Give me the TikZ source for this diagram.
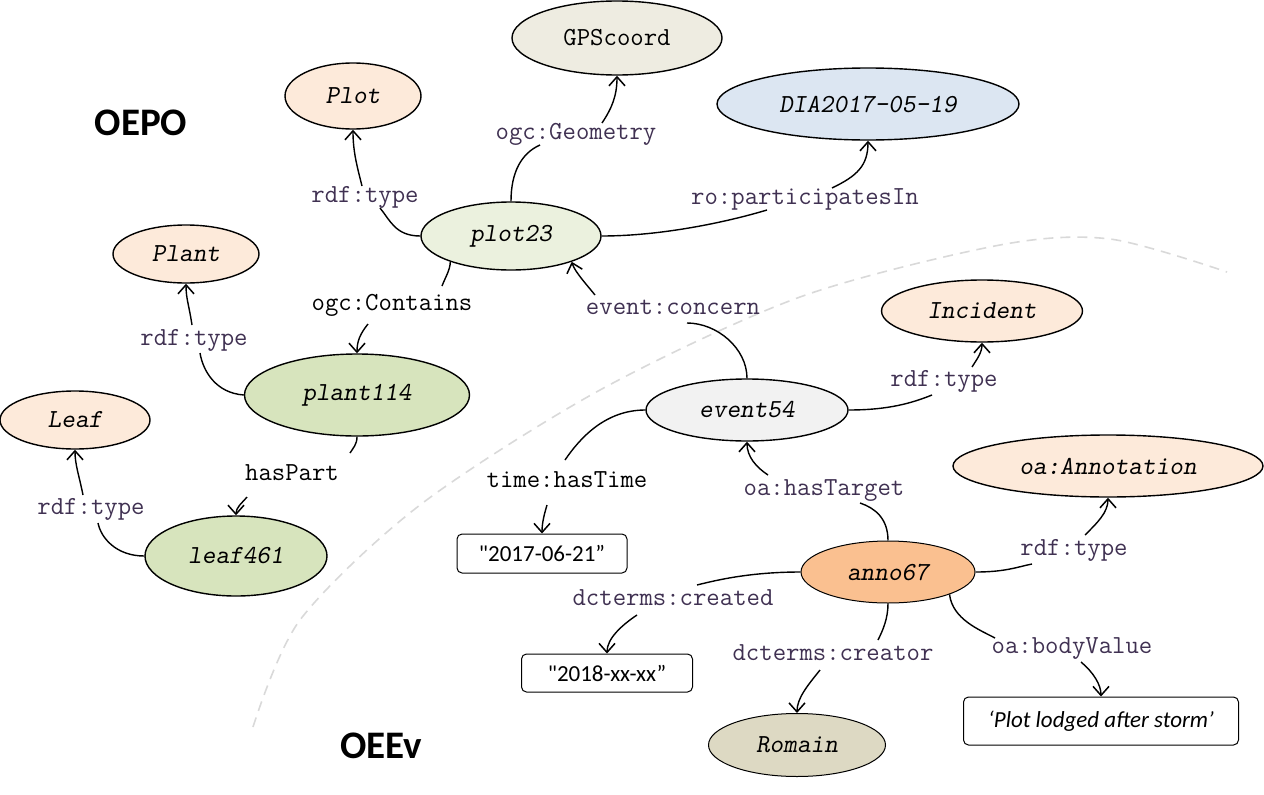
\documentclass[tikz,border=0pt]{standalone}
\usepackage{fontspec}
\setmainfont{Carlito}[Ligatures=TeXOff]
\usetikzlibrary{shapes.geometric,arrows.meta}
\definecolor{peach}{HTML}{FDEADA}
\definecolor{gpsfill}{HTML}{EEECE1}
\definecolor{diafill}{HTML}{DCE6F2}
\definecolor{plotfill}{HTML}{EBF1DE}
\definecolor{greenfill}{HTML}{D7E4BD}
\definecolor{eventfill}{HTML}{F2F2F2}
\definecolor{annofill}{HTML}{FAC090}
\definecolor{romainfill}{HTML}{DDD9C3}
\definecolor{lblcol}{HTML}{403152}
\definecolor{dashcol}{HTML}{D9D9D9}
\tikzset{
  ent/.style={ellipse, draw=black, line width=1.4pt, inner sep=0pt,
    font=\ttfamily\slshape\fontsize{26}{29}\selectfont},
  lbl/.style={inner xsep=2pt, inner ysep=2pt, outer sep=0pt, text height=14pt, text depth=4pt,
    font=\ttfamily\fontsize{26}{29}\selectfont, text=lblcol},
  lblk/.style={lbl, text=black},
  lit/.style={draw=black, line width=1pt, rounded corners=5pt, inner sep=0pt,
    font=\fontsize{23}{26}\selectfont},
  edge/.style={line width=1.4pt, black},
  arr/.style={edge, -{Straight Barb[length=9pt,width=16pt,line width=1.5pt]}},
  region/.style={font=\bfseries\fontsize{39}{44}\selectfont}
}
\begin{document}
\begin{tikzpicture}[x=1pt,y=-1pt]
\useasboundingbox (0,0) rectangle (1264,795);
% separation line
\draw[dashcol, line width=1.6pt, dash pattern=on 10pt off 7pt]
  plot[smooth] coordinates {(253,727) (300,620) (420,505) (600,390) (800,297) (1000,245) (1110,239) (1227,272)};
% region titles
\node[region] (oepo) at (141,123) {OEPO};
\node[region] (oeev) at (381,746) {OEEv};
% entities
\node[ent, fill=gpsfill, minimum width=210pt, minimum height=74pt, font=\ttfamily\fontsize{26}{29}\selectfont] (gps) at (617,38) {GPScoord};
\node[ent, fill=peach, minimum width=136pt, minimum height=66pt] (plot) at (353,96) {Plot};
\node[ent, fill=diafill, minimum width=302pt, minimum height=72pt] (dia) at (868,104) {DIA2017-05-19};
\node[ent, fill=plotfill, minimum width=180pt, minimum height=68pt] (plot23) at (511,236) {plot23};
\node[ent, fill=peach, minimum width=146pt, minimum height=58pt] (plant) at (186,254) {Plant};
\node[ent, fill=greenfill, minimum width=225pt, minimum height=82pt] (plant114) at (357,395) {plant114};
\node[ent, fill=peach, minimum width=150pt, minimum height=58pt] (leaf) at (75,420) {Leaf};
\node[ent, fill=greenfill, minimum width=182pt, minimum height=80pt] (leaf461) at (236,556) {leaf461};
\node[ent, fill=peach, minimum width=201pt, minimum height=62pt] (incident) at (982,311) {Incident};
\node[ent, fill=eventfill, minimum width=202pt, minimum height=62pt] (event54) at (747,410) {event54};
\node[ent, fill=peach, minimum width=310pt, minimum height=62pt] (oaann) at (1108,466) {oa:Annotation};
\node[ent, fill=annofill, line width=1pt, minimum width=174pt, minimum height=62pt] (anno67) at (888,572) {anno67};
\node[ent, fill=romainfill, line width=1pt, minimum width=177pt, minimum height=63pt] (romain) at (797,745) {Romain};
% literals
\node[lit, minimum width=170pt, minimum height=39pt] (lit1) at (542,553.5) {"2017-06-21”};
\node[lit, minimum width=171pt, minimum height=38pt] (lit2) at (607,673) {"2018-xx-xx”};
\node[lit, minimum width=275pt, minimum height=48pt, font=\itshape\fontsize{23}{26}\selectfont] (lit3) at (1101,721) {‘Plot lodged after storm’};
% labels
\node[lbl] (l1) at (365,197) {rdf:type};
\node[lbl] (l2) at (576,134) {ogc:Geometry};
\node[lbl] (l3) at (805,199) {ro:participatesIn};
\node[lblk] (l4) at (392,305) {ogc:Contains};
\node[lbl] (l5) at (194,340) {rdf:type};
\node[lblk] (l6) at (292,475) {hasPart};
\node[lbl] (l7) at (91,509) {rdf:type};
\node[lbl] (l8) at (673,309) {event:concern};
\node[lbl] (l9) at (944,381) {rdf:type};
\node[lblk] (l10) at (567,482) {time:hasTime};
\node[lbl] (l11) at (824,490) {oa:hasTarget};
\node[lbl] (l12) at (1074,550) {rdf:type};
\node[lbl] (l13) at (673,600) {dcterms:created};
\node[lbl] (l14) at (833,655) {dcterms:creator};
\node[lbl] (l15) at (1072,648) {oa:bodyValue};
% edges
% plot23 -> Plot
\draw[edge] (plot23.west) .. controls +(-25,0) and +(10,12) .. ([xshift=15pt]l1.south);
\draw[arr] ([xshift=-3pt]l1.north) .. controls +(-5,-20) and +(0,22) .. (plot.south);
% plot23 -> GPScoord
\draw[edge] (plot23.north) .. controls +(0,-30) and +(-18,8) .. ([xshift=-36pt]l2.south);
\draw[arr] ([xshift=26pt]l2.north) .. controls +(10,-15) and +(0,20) .. (gps.south);
% plot23 -> DIA
\draw[edge] (plot23.east) .. controls +(60,0) and +(-40,12) .. ([xshift=-38pt]l3.south);
\draw[arr] ([xshift=27pt]l3.north) .. controls +(25,-12) and +(0,25) .. (dia.south);
% plot23 -> plant114
\draw[edge] (plot23.203) .. controls +(0,8) and +(3,-8) .. ([xshift=50pt,yshift=8pt]l4.north);
\draw[arr] ([xshift=-24pt,yshift=-8pt]l4.south) .. controls +(-8,10) and +(0,-12) .. (plant114.north);
% plant114 -> Plant
\draw[edge] (plant114.west) .. controls +(-28,-2) and +(3,18) .. ([xshift=6pt,yshift=-2pt]l5.south);
\draw[arr] ([xshift=-2pt,yshift=4pt]l5.north) .. controls +(-3,-20) and +(0,15) .. (plant.south);
% plant114 -> leaf461
\draw[edge] (plant114.south) .. controls +(0,8) and +(3,-5) .. ([xshift=58pt,yshift=11pt]l6.north);
\draw[arr] ([xshift=-45pt,yshift=-11pt]l6.south) .. controls +(-5,6) and +(0,-8) .. (leaf461.north);
% leaf461 -> Leaf
\draw[edge] (leaf461.west) .. controls +(-28,0) and +(3,15) .. ([xshift=7pt,yshift=-3pt]l7.south);
\draw[arr] ([xshift=-8pt,yshift=3pt]l7.north) .. controls +(-4,-20) and +(0,15) .. (leaf.south);
% event54 -> plot23
\draw[edge] (event54.north) .. controls +(0,-30) and +(30,0) .. ([xshift=14pt,yshift=-3pt]l8.south);
\draw[arr] ([xshift=-78pt,yshift=3pt]l8.north) .. controls +(-8,-10) and +(3,10) .. (plot23.-23);
% event54 -> Incident
\draw[edge] (event54.east) .. controls +(40,0) and +(-20,8) .. ([xshift=-12pt,yshift=-3pt]l9.south);
\draw[arr] ([xshift=28pt,yshift=3pt]l9.north) .. controls +(5,-8) and +(0,10) .. (incident.south);
% event54 -> literal 1
\draw[edge] (event54.west) .. controls +(-40,0) and +(15,-22) .. ([xshift=-2pt,yshift=11pt]l10.north);
\draw[arr] ([xshift=-20pt,yshift=-12pt]l10.south) .. controls +(-3,10) and +(0,-10) .. (lit1.north);
% anno67 -> event54
\draw[edge] (anno67.north) .. controls +(0,-22) and +(15,5) .. ([xshift=36pt,yshift=-2pt]l11.south);
\draw[arr] ([xshift=-56pt,yshift=4pt]l11.north) .. controls +(-12,-8) and +(0,15) .. (event54.south);
% anno67 -> oa:Annotation
\draw[edge] (anno67.east) .. controls +(30,0) and +(-15,3) .. ([xshift=-42pt,yshift=-3pt]l12.south);
\draw[arr] ([xshift=11pt,yshift=4pt]l12.north) .. controls +(12,-12) and +(0,15) .. (oaann.south);
% anno67 -> literal 2
\draw[edge] (anno67.west) .. controls +(-50,0) and +(20,-5) .. ([xshift=24pt,yshift=4pt]l13.north);
\draw[arr] ([xshift=-36pt,yshift=-4pt]l13.south) .. controls +(-15,10) and +(0,-15) .. (lit2.north);
% anno67 -> Romain
\draw[edge] (anno67.south) .. controls +(0,15) and +(5,-10) .. ([xshift=45pt,yshift=4pt]l14.north);
\draw[arr] ([xshift=-13pt,yshift=-4pt]l14.south) .. controls +(-12,15) and +(0,-15) .. (romain.north);
% anno67 -> literal 3
\draw[edge] (anno67.-20) .. controls +(3,25) and +(-15,-8) .. ([xshift=-77pt,yshift=-1pt]l15.north);
\draw[arr] ([xshift=9pt,yshift=-3pt]l15.south) .. controls +(12,10) and +(0,-12) .. (lit3.north);
\end{tikzpicture}
\end{document}
